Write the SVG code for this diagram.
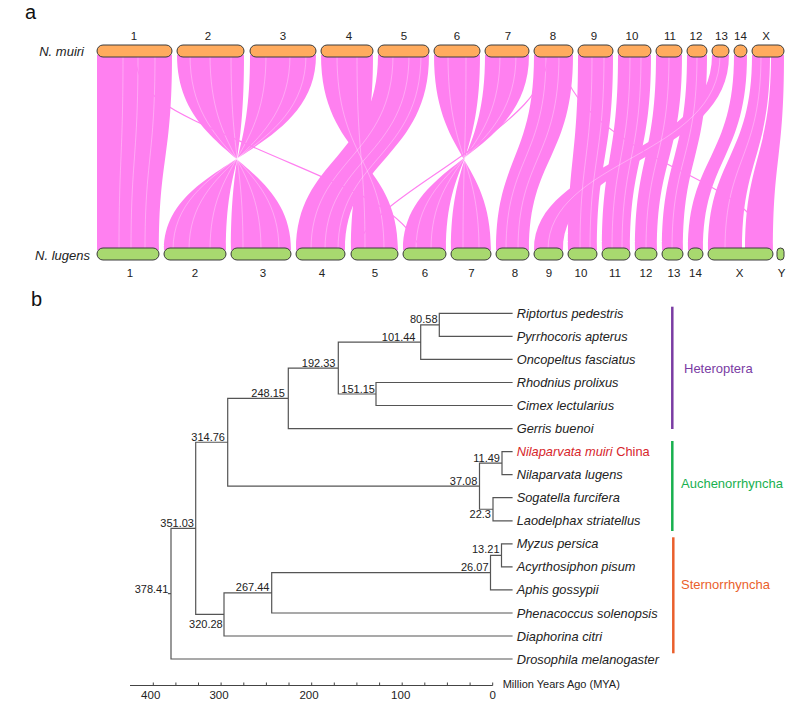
<svg xmlns="http://www.w3.org/2000/svg" width="800" height="706" viewBox="0 0 800 706">
<style>
text{font-family:"Liberation Sans",Arial,sans-serif;fill:#222}
.pl{font-size:20px;fill:#111}
.sp{font-size:13px;font-style:italic}
.cn{font-size:11.5px;text-anchor:middle}
.rb{fill:#ff80f0}
.st{fill:none;stroke:#fff;stroke-width:0.8;opacity:0.4}
.thin{fill:none;stroke:#ff80f0;stroke-width:1.2}
.top{fill:#ffab5e;stroke:#3c3c3c;stroke-width:1}
.bot{fill:#a8d96f;stroke:#3c3c3c;stroke-width:1}
.br{fill:none;stroke:#555;stroke-width:1.2;stroke-linecap:square}
.nl{font-size:11px;text-anchor:end}
.lf{font-size:12.8px;font-style:italic}
.ax{fill:none;stroke:#444;stroke-width:1}
.tl{font-size:11.5px;text-anchor:middle}
.cl{font-size:13px}
</style>

<text class="pl" x="25" y="19">a</text>
<text class="pl" x="31" y="306">b</text>

<!-- synteny ribbons (connectors) -->
<g id="ribbons">
<path class="rb" d="M97,55 C97,158 97,158 97,250 L159,250 C159,158 172,158 172,55 Z"/>
<path class="rb" d="M177,55 C177,158 291,158 291,250 L231,250 C231,158 244,158 244,55 Z"/>
<path class="rb" d="M250,55 C250,158 226,158 226,250 L164,250 C164,158 316,158 316,55 Z"/>
<path class="rb" d="M321,55 C321,158 398,158 398,250 L351,250 C351,158 373,158 373,55 Z"/>
<path class="rb" d="M378,55 C378,158 296,158 296,250 L345,250 C345,158 429,158 429,55 Z"/>
<path class="rb" d="M434,55 C434,158 491,158 491,250 L451,250 C451,158 480,158 480,55 Z"/>
<path class="rb" d="M485,55 C485,158 446,158 446,250 L403,250 C403,158 529,158 529,55 Z"/>
<path class="rb" d="M534,55 C534,158 496,158 496,250 L529,250 C529,158 573,158 573,55 Z"/>
<path class="rb" d="M578,55 C578,158 568,158 568,250 L597,250 C597,158 613,158 613,55 Z"/>
<path class="rb" d="M618,55 C618,158 602,158 602,250 L630,250 C630,158 651,158 651,55 Z"/>
<path class="rb" d="M656,55 C656,158 635,158 635,250 L657,250 C657,158 682,158 682,55 Z"/>
<path class="rb" d="M687,55 C687,158 662,158 662,250 L683,250 C683,158 707,158 707,55 Z"/>
<path class="rb" d="M712,55 C712,158 534,158 534,250 L563,250 C563,158 729,158 729,55 Z"/>
<path class="rb" d="M734,55 C734,158 688,158 688,250 L703,250 C703,158 747,158 747,55 Z"/>
<path class="rb" d="M752,55 C752,158 708,158 708,250 L742,250 C742,158 770,158 770,55 Z"/>
<path class="rb" d="M771,55 C771,158 745,158 745,250 L773,250 C773,158 784,158 784,55 Z"/>
<!-- streak texture -->
<path class="st" d="M123,55 C123,158 119,158 119,250 M138,55 C138,158 131,158 131,250 M155,55 C155,158 145,158 145,250"/>
<path class="st" d="M190,55 C190,158 279,158 279,250 M210,55 C210,158 261,158 261,250 M231,55 C231,158 243,158 243,250"/>
<path class="st" d="M266,55 C266,158 210,158 210,250 M290,55 C290,158 189,158 189,250 M306,55 C306,158 173,158 173,250"/>
<path class="st" d="M337,55 C337,158 384,158 384,250 M357,55 C357,158 365,158 365,250"/>
<path class="st" d="M393,55 C393,158 311,158 311,250 M409,55 C409,158 325,158 325,250 M421,55 C421,158 338,158 338,250"/>
<path class="st" d="M448,55 C448,158 479,158 479,250 M466,55 C466,158 463,158 463,250"/>
<path class="st" d="M500,55 C500,158 431,158 431,250 M516,55 C516,158 416,158 416,250"/>
<path class="st" d="M546,55 C546,158 506,158 506,250 M559,55 C559,158 518,158 518,250"/>
<path class="st" d="M592,55 C592,158 580,158 580,250 M604,55 C604,158 590,158 590,250"/>
<path class="st" d="M630,55 C630,158 612,158 612,250 M641,55 C641,158 622,158 622,250"/>
<path class="st" d="M669,55 C669,158 646,158 646,250 M697,55 C697,158 672,158 672,250 M761,55 C761,158 725,158 725,250 M720,55 C720,158 548,158 548,250"/>
<!-- stray single links -->
<path class="thin" d="M135,57 C140,100 170,110 260,150 C340,185 400,205 420,248"/>
<path class="thin" d="M548,57 C545,90 520,115 453,162 C410,192 370,215 355,248"/>
<path class="thin" d="M560,57 C565,90 590,125 673,167 C740,200 760,215 765,248"/>
</g>

<text class="sp" x="84" y="56" text-anchor="end">N. muiri</text>
<text class="sp" x="90" y="260" text-anchor="end">N. lugens</text>

<!-- N. muiri chromosomes -->
<g id="muiri-1"><rect class="top" x="97" y="45" width="75" height="12" rx="6"/><text class="cn" x="134" y="40">1</text></g>
<g id="muiri-2"><rect class="top" x="177" y="45" width="67" height="12" rx="6"/><text class="cn" x="208" y="40">2</text></g>
<g id="muiri-3"><rect class="top" x="250" y="45" width="66" height="12" rx="6"/><text class="cn" x="283" y="40">3</text></g>
<g id="muiri-4"><rect class="top" x="321" y="45" width="52" height="12" rx="6"/><text class="cn" x="349" y="40">4</text></g>
<g id="muiri-5"><rect class="top" x="378" y="45" width="51" height="12" rx="6"/><text class="cn" x="404" y="40">5</text></g>
<g id="muiri-6"><rect class="top" x="434" y="45" width="46" height="12" rx="6"/><text class="cn" x="457" y="40">6</text></g>
<g id="muiri-7"><rect class="top" x="485" y="45" width="44" height="12" rx="6"/><text class="cn" x="508" y="40">7</text></g>
<g id="muiri-8"><rect class="top" x="534" y="45" width="39" height="12" rx="6"/><text class="cn" x="553" y="40">8</text></g>
<g id="muiri-9"><rect class="top" x="578" y="45" width="35" height="12" rx="6"/><text class="cn" x="594" y="40">9</text></g>
<g id="muiri-10"><rect class="top" x="618" y="45" width="33" height="12" rx="6"/><text class="cn" x="632" y="40">10</text></g>
<g id="muiri-11"><rect class="top" x="656" y="45" width="26" height="12" rx="6"/><text class="cn" x="670" y="40">11</text></g>
<g id="muiri-12"><rect class="top" x="687" y="45" width="20" height="12" rx="6"/><text class="cn" x="696" y="40">12</text></g>
<g id="muiri-13"><rect class="top" x="712" y="45" width="17" height="12" rx="6"/><text class="cn" x="721.5" y="40">13</text></g>
<g id="muiri-14"><rect class="top" x="734" y="45" width="13" height="12" rx="6"/><text class="cn" x="740.5" y="40">14</text></g>
<g id="muiri-X"><rect class="top" x="752" y="45" width="32" height="12" rx="6"/><text class="cn" x="766" y="40">X</text></g>

<!-- N. lugens chromosomes -->
<g id="lugens-1"><rect class="bot" x="97" y="248" width="62" height="12" rx="6"/><text class="cn" x="130" y="277">1</text></g>
<g id="lugens-2"><rect class="bot" x="164" y="248" width="62" height="12" rx="6"/><text class="cn" x="195" y="277">2</text></g>
<g id="lugens-3"><rect class="bot" x="231" y="248" width="60" height="12" rx="6"/><text class="cn" x="263" y="277">3</text></g>
<g id="lugens-4"><rect class="bot" x="296" y="248" width="49" height="12" rx="6"/><text class="cn" x="322" y="277">4</text></g>
<g id="lugens-5"><rect class="bot" x="351" y="248" width="47" height="12" rx="6"/><text class="cn" x="375" y="277">5</text></g>
<g id="lugens-6"><rect class="bot" x="403" y="248" width="43" height="12" rx="6"/><text class="cn" x="425" y="277">6</text></g>
<g id="lugens-7"><rect class="bot" x="451" y="248" width="40" height="12" rx="6"/><text class="cn" x="471.5" y="277">7</text></g>
<g id="lugens-8"><rect class="bot" x="496" y="248" width="33" height="12" rx="6"/><text class="cn" x="515" y="277">8</text></g>
<g id="lugens-9"><rect class="bot" x="534" y="248" width="29" height="12" rx="6"/><text class="cn" x="549" y="277">9</text></g>
<g id="lugens-10"><rect class="bot" x="568" y="248" width="29" height="12" rx="6"/><text class="cn" x="581" y="277">10</text></g>
<g id="lugens-11"><rect class="bot" x="602" y="248" width="28" height="12" rx="6"/><text class="cn" x="615" y="277">11</text></g>
<g id="lugens-12"><rect class="bot" x="635" y="248" width="22" height="12" rx="6"/><text class="cn" x="646" y="277">12</text></g>
<g id="lugens-13"><rect class="bot" x="662" y="248" width="21" height="12" rx="6"/><text class="cn" x="674" y="277">13</text></g>
<g id="lugens-14"><rect class="bot" x="688" y="248" width="15" height="12" rx="6"/><text class="cn" x="695.5" y="277">14</text></g>
<g id="lugens-X"><rect class="bot" x="708" y="248" width="65" height="12" rx="6"/><text class="cn" x="739.5" y="277">X</text></g>
<g id="lugens-Y"><rect class="bot" x="777" y="248" width="7" height="12" rx="3.5"/><text class="cn" x="781.5" y="277">Y</text></g>

<!-- tree branches (connectors) -->
<g id="branches">
<path class="br" d="M439.3,313.3 H512 M439.3,336.4 H512 M439.3,313.3 V336.4
M420.7,324.85 H439.3 M420.7,359.4 H512 M420.7,324.85 V359.4
M376,382.5 H512 M376,405.5 H512 M376,382.5 V405.5
M338.3,342.1 H420.7 M338.3,394 H376 M338.3,342.1 V394
M288.3,368.05 H338.3 M288.3,428.6 H512 M288.3,368.05 V428.6
M502,451.6 H512 M502,474.7 H512 M502,451.6 V474.7
M493,497.7 H512 M493,520.8 H512 M493,497.7 V520.8
M479.5,463.15 H502 M479.5,509.25 H493 M479.5,463.15 V509.25
M227.7,398.3 H288.3 M227.7,486.2 H479.5 M227.7,398.3 V486.2
M501.5,543.8 H512 M501.5,566.9 H512 M501.5,543.8 V566.9
M490.5,555.35 H501.5 M490.5,589.9 H512 M490.5,555.35 V589.9
M271.7,572.6 H490.5 M271.7,613 H512 M271.7,572.6 V613
M224,592.8 H271.7 M224,636 H512 M224,592.8 V636
M195.7,442.25 H227.7 M195.7,614.4 H224 M195.7,442.25 V614.4
M171,528.3 H195.7 M171,659 H512 M171,528.3 V659
M168.5,593.65 H171"/>
</g>

<!-- node ages -->
<g id="node-ages">
<text class="nl" x="437.5" y="323.3">80.58</text>
<text class="nl" x="415.5" y="340.6">101.44</text>
<text class="nl" x="335.5" y="366.5">192.33</text>
<text class="nl" x="375" y="392.5">151.15</text>
<text class="nl" x="285" y="396.8">248.15</text>
<text class="nl" x="225" y="440.8">314.76</text>
<text class="nl" x="500" y="461.6">11.49</text>
<text class="nl" x="477.3" y="484.7">37.08</text>
<text class="nl" x="491" y="518.3">22.3</text>
<text class="nl" x="194" y="526.8">351.03</text>
<text class="nl" x="499.5" y="553.3">13.21</text>
<text class="nl" x="488.5" y="570.6">26.07</text>
<text class="nl" x="269.5" y="591.3">267.44</text>
<text class="nl" x="168.3" y="593">378.41</text>
<text class="nl" x="222.7" y="628">320.28</text>
</g>

<!-- leaves -->
<g id="leaf-riptortus"><text class="lf" x="516.7" y="317.8">Riptortus pedestris</text></g>
<g id="leaf-pyrrhocoris"><text class="lf" x="516.7" y="340.9">Pyrrhocoris apterus</text></g>
<g id="leaf-oncopeltus"><text class="lf" x="516.7" y="363.9">Oncopeltus fasciatus</text></g>
<g id="leaf-rhodnius"><text class="lf" x="516.7" y="387">Rhodnius prolixus</text></g>
<g id="leaf-cimex"><text class="lf" x="516.7" y="410">Cimex lectularius</text></g>
<g id="leaf-gerris"><text class="lf" x="516.7" y="433.1">Gerris buenoi</text></g>
<g id="leaf-nmuiri"><text class="lf" x="516.7" y="456.1" style="fill:#d7262b">Nilaparvata muiri<tspan style="font-style:normal;fill:#d7262b"> China</tspan></text></g>
<g id="leaf-nlugens"><text class="lf" x="516.7" y="479.2">Nilaparvata lugens</text></g>
<g id="leaf-sogatella"><text class="lf" x="516.7" y="502.2">Sogatella furcifera</text></g>
<g id="leaf-laodelphax"><text class="lf" x="516.7" y="525.3">Laodelphax striatellus</text></g>
<g id="leaf-myzus"><text class="lf" x="516.7" y="548.3">Myzus persica</text></g>
<g id="leaf-acyrthosiphon"><text class="lf" x="516.7" y="571.4">Acyrthosiphon pisum</text></g>
<g id="leaf-aphis"><text class="lf" x="516.7" y="594.4">Aphis gossypii</text></g>
<g id="leaf-phenacoccus"><text class="lf" x="516.7" y="617.5">Phenacoccus solenopsis</text></g>
<g id="leaf-diaphorina"><text class="lf" x="516.7" y="640.5">Diaphorina citri</text></g>
<g id="leaf-drosophila"><text class="lf" x="516.7" y="663.5">Drosophila melanogaster</text></g>

<!-- clades -->
<g id="clade-heteroptera"><line x1="672.3" y1="306.7" x2="672.3" y2="429" stroke="#7a3ca3" stroke-width="2.5"/><text class="cl" x="684" y="373" style="fill:#7a3ca3">Heteroptera</text></g>
<g id="clade-auchenorrhyncha"><line x1="672.3" y1="441" x2="672.3" y2="531" stroke="#18b04f" stroke-width="2.5"/><text class="cl" x="681" y="488" style="fill:#18b04f">Auchenorrhyncha</text></g>
<g id="clade-sternorrhyncha"><line x1="673.3" y1="537.3" x2="673.3" y2="653.3" stroke="#ea5f2c" stroke-width="2.5"/><text class="cl" x="681" y="589" style="fill:#ea5f2c">Sternorrhyncha</text></g>

<!-- time axis -->
<g id="axis">
<path class="ax" d="M130,685.5 H492.7 M492.7,682.5 V685.5 M470.1,682.5 V685.5 M447.4,682.5 V685.5 M424.8,682.5 V685.5 M402.2,682.5 V685.5 M379.6,682.5 V685.5 M356.9,682.5 V685.5 M334.3,682.5 V685.5 M311.7,682.5 V685.5 M289,682.5 V685.5 M266.4,682.5 V685.5 M243.8,682.5 V685.5 M221.1,682.5 V685.5 M198.5,682.5 V685.5 M175.9,682.5 V685.5 M153.3,682.5 V685.5"/>
<text class="tl" x="150.7" y="698.5">400</text>
<text class="tl" x="219" y="698.5">300</text>
<text class="tl" x="309" y="698.5">200</text>
<text class="tl" x="400.7" y="698.5">100</text>
<text class="tl" x="492.7" y="698.5">0</text>
<text x="502.7" y="687.5" style="font-size:11px">Million Years Ago (MYA)</text>
</g>
</svg>
